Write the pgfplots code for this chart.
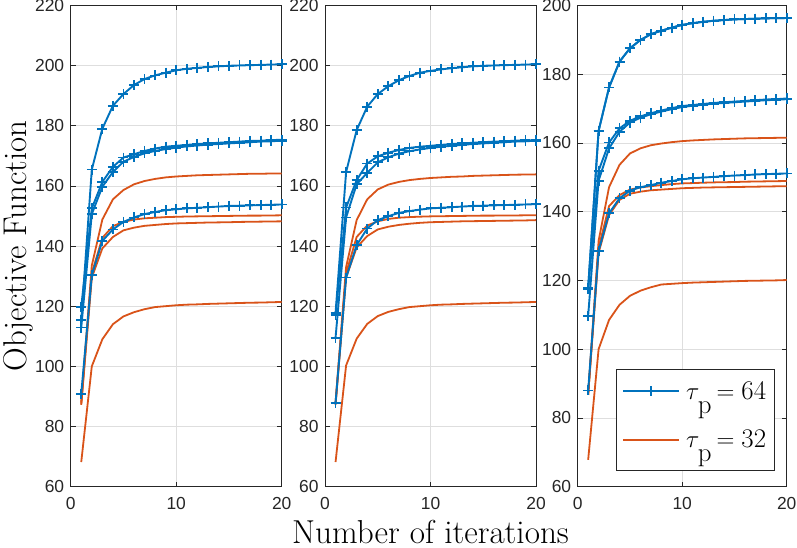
\documentclass[border=0pt]{standalone}
\usepackage{fontspec}
\usepackage{pgfplots}
\usepackage{pgfplotstable}
\pgfplotsset{compat=1.18}
\newfontfamily\ticksf{Liberation Sans}
\definecolor{mblue}{rgb}{0,0.447,0.741}
\definecolor{morange}{rgb}{0.85,0.325,0.098}
\definecolor{maxis}{rgb}{0.15,0.15,0.15}

\pgfplotstableread{
x b1 b2 b3 b4 o1 o2 o3 o4
1 115.3 119.7 112.9 90.9 88.0 87.6 87.2 68.2
2 165.4 152.5 150.6 130.3 133.5 131.0 129.5 100.0
3 179.0 161.3 159.7 141.7 148.8 142.7 139.2 109.0
4 186.6 166.3 164.6 145.5 155.5 146.6 143.0 114.0
5 190.5 169.4 168.0 148.0 158.6 148.0 145.2 116.6
6 193.5 170.5 169.6 149.5 160.5 148.8 146.1 118.0
7 195.5 171.6 170.8 150.6 161.6 149.2 146.7 119.0
8 196.7 172.4 171.6 151.3 162.3 149.4 147.0 119.7
9 197.6 173.0 172.2 151.9 162.8 149.6 147.3 120.0
10 198.4 173.3 172.7 152.2 163.1 149.7 147.5 120.3
11 198.9 173.6 173.1 152.5 163.3 149.8 147.6 120.5
12 199.2 173.9 173.4 152.7 163.5 149.85 147.7 120.6
13 199.5 174.1 173.7 152.9 163.6 149.9 147.8 120.75
14 199.7 174.3 173.9 153.1 163.7 149.95 147.85 120.85
15 199.9 174.5 174.1 153.3 163.8 150.0 147.9 120.95
16 200.0 174.7 174.3 153.4 163.9 150.05 148.0 121.05
17 200.1 174.9 174.5 153.5 164.0 150.1 148.05 121.15
18 200.2 175.0 174.7 153.6 164.0 150.1 148.1 121.2
19 200.3 175.2 174.8 153.7 164.1 150.15 148.15 121.3
20 200.4 175.3 175.0 153.8 164.1 150.2 148.2 121.4
}\panelA

\pgfplotstableread{
x b1 b2 b3 b4 o1 o2 o3 o4
1 117.7 117.0 109.5 87.9 88.0 87.6 87.2 68.2
2 164.6 152.8 149.5 129.5 133.0 131.0 129.5 100.3
3 178.5 161.9 160.5 140.3 148.6 143.0 139.5 109.2
4 186.3 167.4 164.3 145.8 155.5 146.8 143.3 114.1
5 190.5 169.8 167.8 148.6 158.8 148.2 145.5 116.7
6 193.1 171.0 169.5 149.9 160.4 149.0 146.4 118.1
7 195.1 171.9 170.7 151.0 161.3 149.4 147.0 119.0
8 196.5 172.6 171.5 151.6 161.9 149.6 147.4 119.7
9 197.6 173.0 172.1 152.1 162.3 149.75 147.7 120.0
10 198.2 173.3 172.6 152.5 162.6 149.85 147.9 120.3
11 198.7 173.6 173.0 152.7 162.8 149.9 148.0 120.5
12 199.1 173.9 173.3 152.9 163.0 149.95 148.1 120.6
13 199.4 174.1 173.6 153.1 163.1 150.0 148.2 120.75
14 199.7 174.3 173.9 153.3 163.3 150.05 148.25 120.85
15 199.9 174.5 174.1 153.4 163.4 150.1 148.3 120.95
16 200.0 174.7 174.3 153.5 163.5 150.1 148.35 121.05
17 200.1 174.8 174.5 153.6 163.6 150.15 148.4 121.15
18 200.2 175.0 174.7 153.7 163.7 150.15 148.45 121.2
19 200.3 175.1 174.8 153.8 163.75 150.2 148.5 121.3
20 200.4 175.2 175.0 153.9 163.8 150.2 148.6 121.4
}\panelB

\pgfplotstableread{
x b1 b2 b3 b4 o1 o2 o3 o4
1 117.8 117.5 109.7 88.0 86.7 86.7 86.7 67.8
2 163.5 151.9 149.0 128.6 131.5 129.5 128.0 100.0
3 176.1 160.1 158.4 139.5 147.1 141.6 139.0 108.5
4 183.6 164.2 163.2 143.9 153.6 144.8 143.4 112.9
5 187.5 166.4 165.9 146.1 156.9 146.4 145.2 115.5
6 189.9 167.7 167.3 147.1 158.4 147.0 145.8 117.0
7 191.6 168.6 168.3 147.7 159.3 147.4 146.2 118.0
8 192.6 169.4 169.1 148.4 159.8 147.7 146.4 118.8
9 193.5 170.1 169.8 148.9 160.2 148.0 146.6 119.0
10 194.3 170.7 170.4 149.4 160.5 148.2 146.8 119.2
11 194.8 171.0 170.8 149.7 160.7 148.3 146.9 119.35
12 195.2 171.3 171.1 149.9 160.85 148.4 147.0 119.45
13 195.5 171.6 171.4 150.1 161.0 148.5 147.05 119.55
14 195.7 171.8 171.6 150.3 161.1 148.55 147.1 119.65
15 195.9 172.0 171.8 150.5 161.2 148.6 147.15 119.75
16 196.0 172.2 172.0 150.6 161.3 148.7 147.2 119.85
17 196.1 172.4 172.2 150.8 161.35 148.75 147.25 119.9
18 196.2 172.6 172.4 150.9 161.4 148.8 147.3 119.95
19 196.25 172.7 172.5 151.0 161.45 148.85 147.35 120.0
20 196.3 172.9 172.7 151.1 161.5 148.9 147.4 120.1
}\panelC

\pgfplotsset{
  panel/.style={
    scale only axis, width=211bp, height=481.4bp,
    xmin=0, xmax=20, ymin=60, xtick={0,10,20}, ytick distance=20,
    grid=major, grid style={color=black!13, line width=0.6bp},
    axis line style={maxis, line width=0.6bp},
    tick style={maxis, line width=0.6bp}, major tick length=5bp,
    tick align=inside,
    ticklabel style={font=\ticksf\fontsize{17.5}{18}\selectfont, text=maxis},
    /pgf/number format/assume math mode=true,
    yticklabel style={xshift=-3bp},
    xticklabel style={yshift=-7bp},
    clip=false,
  },
  bl/.style={mblue, line width=1.9bp, mark=+, mark size=5bp, mark options={line width=1.8bp}},
  ol/.style={morange, line width=1.8bp, no marks},
}

\begin{document}
\begin{tikzpicture}
% panel 1
\begin{axis}[panel, at={(70.7bp,61.3bp)}, anchor=south west, ymax=220,
  ylabel={Objective Function},
  ylabel style={at={(axis description cs:-0.2095,0.5)}, anchor=base, rotate=0,
    font=\fontsize{33}{33}\selectfont}]
\addplot[ol] table[x=x,y=o1] {\panelA};
\addplot[ol] table[x=x,y=o2] {\panelA};
\addplot[ol] table[x=x,y=o3] {\panelA};
\addplot[ol] table[x=x,y=o4] {\panelA};
\addplot[bl] table[x=x,y=b1] {\panelA};
\addplot[bl] table[x=x,y=b2] {\panelA};
\addplot[bl] table[x=x,y=b3] {\panelA};
\addplot[bl] table[x=x,y=b4] {\panelA};
\end{axis}
% panel 2
\begin{axis}[panel, at={(325bp,61.3bp)}, anchor=south west, ymax=220,
  xlabel={Number of iterations},
  xlabel style={at={(axis description cs:0.5,0)}, anchor=base, yshift=-56.6bp,
    font=\fontsize{33.3}{33.3}\selectfont}]
\addplot[ol] table[x=x,y=o1] {\panelB};
\addplot[ol] table[x=x,y=o2] {\panelB};
\addplot[ol] table[x=x,y=o3] {\panelB};
\addplot[ol] table[x=x,y=o4] {\panelB};
\addplot[bl] table[x=x,y=b1] {\panelB};
\addplot[bl] table[x=x,y=b2] {\panelB};
\addplot[bl] table[x=x,y=b3] {\panelB};
\addplot[bl] table[x=x,y=b4] {\panelB};
\end{axis}
% panel 3
\begin{axis}[panel, at={(577.7bp,61.3bp)}, anchor=south west, width=209bp, ymax=200,
  legend cell align=left,
  legend style={at={(1,0)}, anchor=south east, xshift=-12.4bp, yshift=16bp,
    draw=maxis, fill=white,
    font=\fontsize{27}{27}\selectfont,
    inner xsep=6bp, inner ysep=3bp, row sep=1.2bp, column sep=4bp,
    nodes={inner sep=2bp, text height=25bp, text depth=18.1bp}},
  legend image code/.code={\draw[mark repeat=2,mark phase=2,#1] plot coordinates {(0bp,4.3bp) (28bp,4.3bp) (56bp,4.3bp)};}]
\addplot[bl] table[x=x,y=b1] {\panelC};
\addlegendentry{$\tau$\kern-1.5bp\raisebox{-14bp}[0pt][0pt]{p}\kern5bp$=$\kern7bp 64}
\addplot[ol] table[x=x,y=o1] {\panelC};
\addlegendentry{$\tau$\kern-1.5bp\raisebox{-14bp}[0pt][0pt]{p}\kern5bp$=$\kern7bp 32}
\addplot[ol, forget plot] table[x=x,y=o2] {\panelC};
\addplot[ol, forget plot] table[x=x,y=o3] {\panelC};
\addplot[ol, forget plot] table[x=x,y=o4] {\panelC};
\addplot[bl, forget plot] table[x=x,y=b2] {\panelC};
\addplot[bl, forget plot] table[x=x,y=b3] {\panelC};
\addplot[bl, forget plot] table[x=x,y=b4] {\panelC};
\addplot[bl, forget plot] table[x=x,y=b1] {\panelC};
\end{axis}
\pgfresetboundingbox
\useasboundingbox (0,0) rectangle (797bp,548bp);
\end{tikzpicture}
\end{document}
